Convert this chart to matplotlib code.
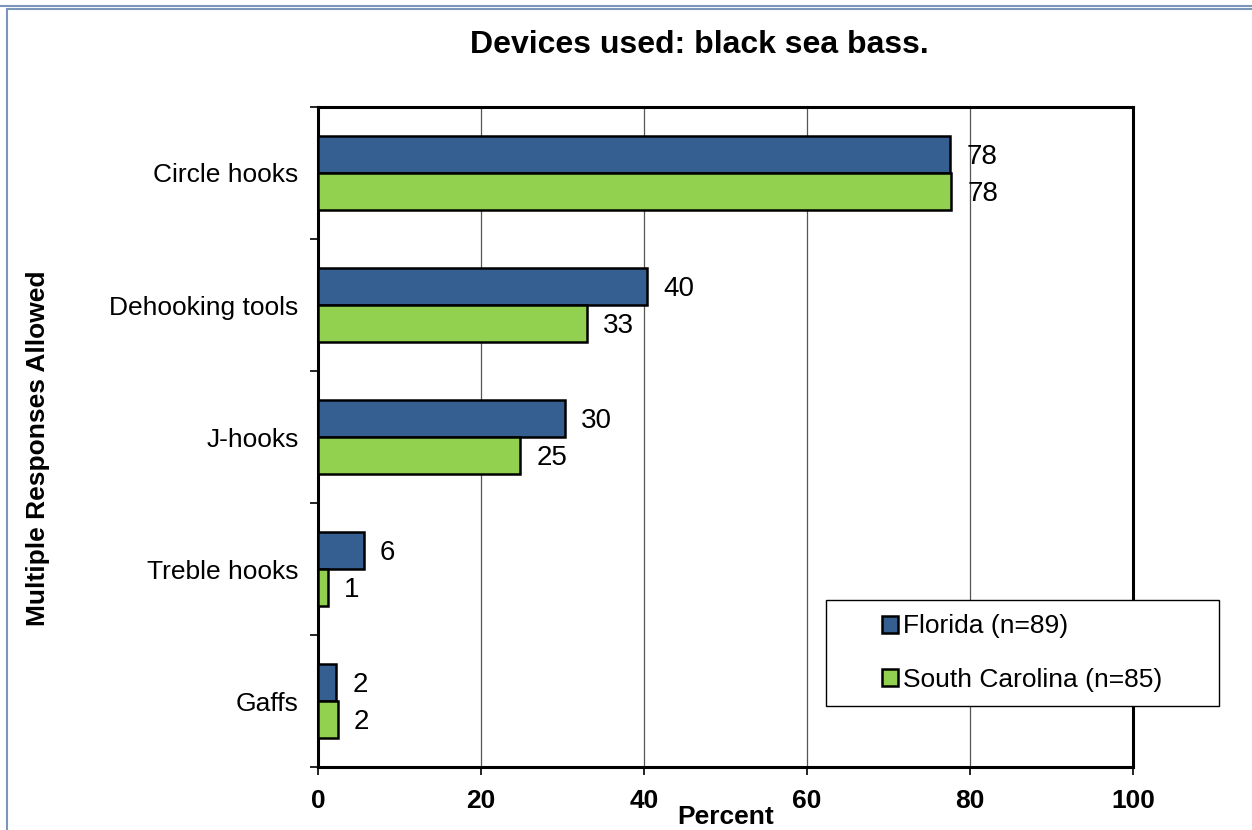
import numpy as np
import matplotlib.pyplot as plt
from matplotlib.patches import Rectangle
from matplotlib.lines import Line2D

plt.rcParams['font.family'] = ['Liberation Sans', 'DejaVu Sans']

categories = ['Circle hooks', 'Dehooking tools', 'J-hooks', 'Treble hooks', 'Gaffs']
florida = [77.6, 40.4, 30.3, 5.6, 2.2]
south_carolina = [77.7, 33.0, 24.8, 1.2, 2.4]
series_names = ['Florida (n=89)', 'South Carolina (n=85)']
colors = ['#365F91', '#92D050']

fig = plt.figure(figsize=(12.52, 8.3), dpi=100)

# outer frame lines
fig.add_artist(Line2D([0, 1], [1 - 6/830, 1 - 6/830], color='#7A96BA', lw=1.5))
fig.add_artist(Rectangle((7/1252, -0.1), 1.2, 1 - 9/830 + 0.1, fill=False,
                         ec='#7A96BA', lw=1.5, transform=fig.transFigure))

ax = fig.add_axes([318/1252, 63/830, 815/1252, 660/830])

y = np.arange(len(categories))
h = 0.28
ax.barh(y - h/2, florida, height=h, color=colors[0], edgecolor='black', lw=1.8,
        label=series_names[0], zorder=3)
ax.barh(y + h/2, south_carolina, height=h, color=colors[1], edgecolor='black', lw=1.8,
        label=series_names[1], zorder=3)

for i in range(len(categories)):
    ax.text(florida[i] + 2, y[i] - h/2 + 0.02, '{:.0f}'.format(florida[i]), fontsize=20,
            va='center', ha='left')
    ax.text(south_carolina[i] + 2, y[i] + h/2 + 0.02, '{:.0f}'.format(south_carolina[i]),
            fontsize=20, va='center', ha='left')

ax.set_ylim(len(categories) - 0.5, -0.5)
ax.set_xlim(0, 100)
ax.set_yticks(y)
ax.set_yticklabels(categories, fontsize=19)
ax.set_yticks(np.arange(len(categories) + 1) - 0.5, minor=True)
ax.tick_params(axis='y', which='major', length=0, pad=14)
ax.tick_params(axis='y', which='minor', length=6, width=1.2, direction='out')
ax.set_xticks([0, 20, 40, 60, 80, 100])
ax.tick_params(axis='x', length=6, width=1.2, labelsize=19, pad=10)
for lab in ax.get_xticklabels():
    lab.set_fontweight('bold')

ax.grid(axis='x', color='#555555', lw=0.9, zorder=0)
for s in ax.spines.values():
    s.set_linewidth(2.2)
    s.set_color('black')

ax.set_xlabel('Percent', fontsize=19, fontweight='bold', labelpad=-6)
fig.text(38/1252, 1 - 448/830, 'Multiple Responses Allowed', fontsize=19,
         fontweight='bold', rotation=90, ha='center', va='center')
fig.text(699/1252, 1 - 45/830, 'Devices used: black sea bass.', fontsize=23,
         fontweight='bold', ha='center', va='center')

# legend box sits partly outside the plot area
fig.add_artist(Rectangle((826/1252, 1 - 706/830), 393/1252, 106/830, fill=True,
                         fc='white', ec='black', lw=1.0, transform=fig.transFigure,
                         zorder=5))
leg = ax.legend(loc='center left', bbox_to_anchor=(882/1252, 1 - 653/830),
                bbox_transform=fig.transFigure, fontsize=19, frameon=False,
                handlelength=0.6, handleheight=0.6, handletextpad=0.2,
                labelspacing=1.1, borderpad=0, borderaxespad=0)
leg.set_zorder(6)
fig.legends.append(leg)
ax.get_legend().remove()

fig.savefig('out.png', dpi=100)
